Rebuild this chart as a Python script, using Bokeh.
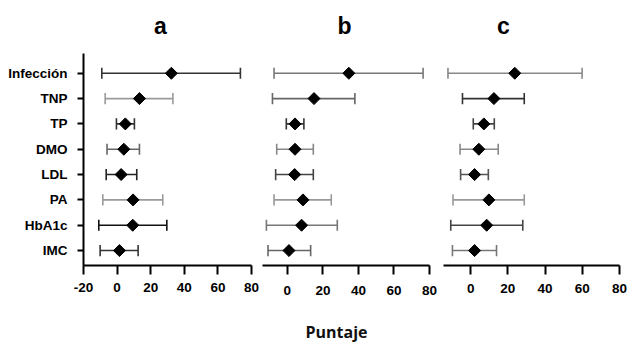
from bokeh.plotting import figure
from bokeh.layouts import row, column
from bokeh.models import FixedTicker, Range1d, ColumnDataSource
from bokeh.core.properties import value
from bokeh.embed import file_html
from bokeh.resources import INLINE
import math

categories = ["Infección", "TNP", "TP", "DMO", "LDL", "PA", "HbA1c", "IMC"]

a_mid = [32.3, 13.3, 4.9, 4.0, 2.4, 9.5, 9.3, 1.4]
a_lo = [-9.1, -7.1, -0.4, -6.0, -6.5, -8.5, -10.9, -10.1]
a_hi = [73.4, 33.2, 10.3, 13.3, 11.7, 27.2, 29.6, 12.5]

b_mid = [34.6, 15.0, 4.3, 4.3, 4.1, 8.8, 8.0, 0.9]
b_lo = [-7.5, -8.4, -0.6, -6.0, -6.6, -7.5, -11.8, -10.9]
b_hi = [76.4, 38.0, 9.3, 14.6, 14.6, 24.7, 28.1, 13.1]

c_mid = [23.7, 12.5, 7.1, 4.4, 2.1, 9.8, 8.6, 2.1]
c_lo = [-12.2, -4.4, 1.4, -5.7, -5.4, -9.5, -10.7, -9.8]
c_hi = [59.9, 28.8, 12.7, 14.8, 9.5, 28.8, 28.0, 13.9]

x_ticks = [-20, 0, 20, 40, 60, 80]
panel_titles = ["a", "b", "c"]
x_label = "Puntaje"

# styles
a_cols = ["#333333", "#9a9a9a", "#333333", "#666666", "#222222", "#9a9a9a", "#111111", "#333333"]
b_cols = ["#777777", "#666666", "#333333", "#888888", "#444444", "#999999", "#777777", "#666666"]
c_cols = ["#888888", "#333333", "#444444", "#888888", "#555555", "#999999", "#444444", "#777777"]

FONT = "Liberation Sans"
H = 255
TOP = 8
BOTTOM = 35


def panel(mids, los, his, cols, xr, width, bl, br, show_y, lab_standoff):
    ys = [len(categories) - i for i in range(len(categories))]
    src = ColumnDataSource(dict(
        y=ys, mid=mids, lo=los, hi=his, col=cols,
        ylo=[y - 0.22 for y in ys], yhi=[y + 0.22 for y in ys]))
    p = figure(width=width, height=H, output_backend="svg", toolbar_location=None,
               x_range=Range1d(*xr), y_range=Range1d(0.41, 8.78),
               min_border_left=bl, min_border_right=br,
               min_border_top=TOP, min_border_bottom=BOTTOM)
    p.outline_line_color = None
    p.grid.visible = False
    p.background_fill_color = "white"
    p.border_fill_color = "white"

    p.segment(x0="lo", x1="hi", y0="y", y1="y", line_color="col", line_width=1.6, source=src)
    p.segment(x0="lo", x1="lo", y0="ylo", y1="yhi", line_color="col", line_width=1.6, source=src)
    p.segment(x0="hi", x1="hi", y0="ylo", y1="yhi", line_color="col", line_width=1.6, source=src)
    p.scatter(x="mid", y="y", marker="square", angle=math.pi / 4, size=8.5,
              fill_color="black", line_color="black", source=src)

    ax = p.xaxis[0]
    ticks = [t for t in x_ticks if t >= xr[0] - 0.01]
    ax.ticker = FixedTicker(ticks=ticks)
    ax.major_label_overrides = {t: str(t) for t in ticks}
    ax.axis_line_width = 2
    ax.axis_line_color = "black"
    ax.major_tick_line_width = 2
    ax.major_tick_line_color = "black"
    ax.major_tick_out = 9
    ax.major_tick_in = 0
    ax.minor_tick_line_color = None
    ax.major_label_text_font = FONT
    ax.major_label_text_font_style = "bold"
    ax.major_label_text_font_size = "13.5px"
    ax.major_label_text_color = "black"
    ax.major_label_standoff = lab_standoff

    ay = p.yaxis[0]
    if show_y:
        ay.ticker = FixedTicker(ticks=ys)
        ay.major_label_overrides = {y: c for y, c in zip(ys, categories)}
        ay.axis_line_width = 2
        ay.axis_line_color = "black"
        ay.major_tick_line_width = 2
        ay.major_tick_out = 6
        ay.major_tick_in = 0
        ay.minor_tick_line_color = None
        ay.major_label_text_font = FONT
        ay.major_label_text_font_style = "bold"
        ay.major_label_text_font_size = "13.5px"
        ay.major_label_text_color = "black"
        ay.major_label_standoff = 10
    else:
        ay.visible = False
    return p


def strip(height):
    s = figure(width=628, height=height, output_backend="svg", toolbar_location=None,
               x_range=Range1d(0, 628), y_range=Range1d(0, height),
               min_border=0, min_border_left=0, min_border_right=0,
               min_border_top=0, min_border_bottom=0)
    s.axis.visible = False
    s.grid.visible = False
    s.outline_line_color = None
    return s


pa = panel(a_mid, a_lo, a_hi, a_cols, (-20, 80), 259, 83, 8, True, 8)
pb = panel(b_mid, b_lo, b_hi, b_cols, (-14, 80), 178, 3, 8, False, 11)
pc = panel(c_mid, c_lo, c_hi, c_cols, (-14.6, 80), 191, 6, 9, False, 9)

# top strip: panel letters
pt = strip(45)
pt.text(x=[160, 344, 503], y=[20, 20, 20], text=panel_titles, text_font=value(FONT),
        text_font_style="bold", text_font_size="23px", text_align="center",
        text_baseline="middle", text_color="black")

# bottom strip: shared axis title
pd = strip(42)
pd.text(x=[336], y=[11], text=[x_label], text_font=value("Open Sans"),
        text_font_style="bold", text_font_size="16px", text_align="center",
        text_baseline="middle", text_color="#111111")

layout = column(pt, row(pa, pb, pc), pd)
open("out.html", "w").write(file_html(layout, INLINE))
